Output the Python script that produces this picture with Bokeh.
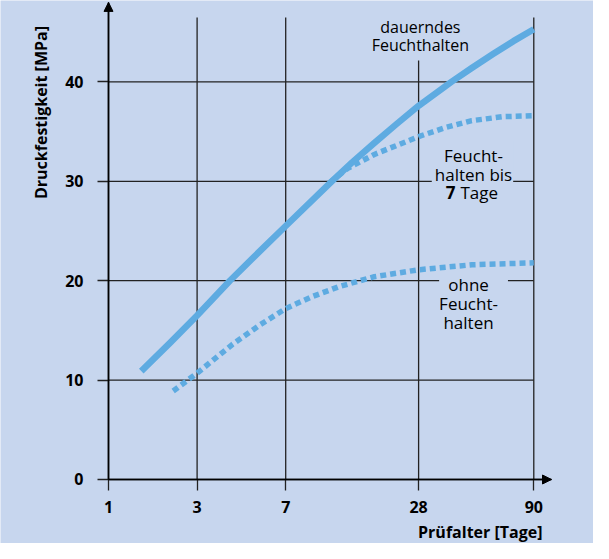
import math
from bokeh.plotting import figure
from bokeh.models import (Range1d, FixedTicker, Label, Arrow, NormalHead)
from bokeh.embed import file_html
from bokeh.resources import INLINE

# ---- data ----
tick_days = [1, 3, 7, 28, 90]
tick_pos = [0, 1, 2, 3.5, 4.8]          # position of each age tick on the (non-log) axis
y_ticks = [0, 10, 20, 30, 40]

# dauerndes Feuchthalten (solid)
dauernd_x = [0.37, 0.7, 1.0, 1.37, 1.7, 2.0, 2.52, 2.75, 3.0, 3.25, 3.5, 3.87, 4.1, 4.34, 4.57, 4.8]
dauernd_y = [10.9, 13.8, 16.5, 20.0, 22.9, 25.5, 30.0, 31.9, 33.85, 35.75, 37.6, 40.0, 41.4, 42.8, 44.1, 45.3]

# Feuchthalten bis 7 Tage (dotted, branches off the solid curve)
bis7_x = [2.5, 2.7, 3.0, 3.25, 3.5, 3.8, 4.1, 4.45, 4.8]
bis7_y = [29.9, 31.3, 32.7, 33.6, 34.5, 35.4, 36.1, 36.5, 36.6]

# ohne Feuchthalten (dotted)
ohne_x = [0.73, 1.0, 1.4, 1.7, 2.0, 2.3, 2.6, 3.0, 3.5, 4.1, 4.8]
ohne_y = [8.9, 10.7, 13.6, 15.5, 17.2, 18.4, 19.4, 20.4, 21.1, 21.6, 21.8]

BG = "#c7d6ee"
BLUE = "#5eabe1"
FONT = "Open Sans"

W, H = 593, 543
X_MIN, X_MAX = -1.219, 5.474
Y_MIN, Y_MAX = -6.44, 48.19
X_ARROW = 5.0
Y_ARROW = 48.0
GRID_TOP = 46.48

p = figure(width=W, height=H, output_backend="svg", toolbar_location=None,
           x_range=Range1d(X_MIN, X_MAX), y_range=Range1d(Y_MIN, Y_MAX),
           min_border=0, background_fill_color=BG,
           border_fill_color=BG, outline_line_color=None)
p.xgrid.visible = False
p.ygrid.visible = False

# axes (crossing at the origin, inside the frame)
for ax in (p.xaxis, p.yaxis):
    ax.fixed_location = 0
    ax.axis_line_color = "black"
    ax.axis_line_width = 1.5
    ax.major_tick_line_color = "#222222"
    ax.major_tick_line_width = 1.3
    ax.major_tick_out = 11
    ax.major_tick_in = 0
    ax.minor_tick_line_color = None
    ax.major_label_text_font = FONT
    ax.major_label_text_font_style = "bold"
    ax.major_label_text_font_size = "16px"
    ax.major_label_text_color = "black"

p.xaxis.bounds = (0, X_ARROW)
p.yaxis.bounds = (0, Y_ARROW)
p.xaxis.ticker = FixedTicker(ticks=tick_pos)
p.xaxis.major_label_overrides = {tp: str(d) for tp, d in zip(tick_pos, tick_days)}
p.xaxis.major_label_standoff = 11
p.yaxis.ticker = FixedTicker(ticks=y_ticks)
p.yaxis.major_label_standoff = 14

# grid lines from tick arrays
gy = y_ticks[1:]
p.segment(x0=[tick_pos[0]] * len(gy), x1=[tick_pos[-1]] * len(gy), y0=gy, y1=gy,
          line_color="#222222", line_width=1.3)
gx = tick_pos[1:]
p.segment(x0=gx, x1=gx, y0=[0] * len(gx), y1=[GRID_TOP] * len(gx),
          line_color="#222222", line_width=1.3)

# curves
p.line(bis7_x, bis7_y, line_color=BLUE, line_width=5.5, line_dash="6 4")
p.line(ohne_x, ohne_y, line_color=BLUE, line_width=5.5, line_dash="6 4")
p.line(dauernd_x, dauernd_y, line_color=BLUE, line_width=6.5, line_join="round")

# arrow heads on axes
p.add_layout(Arrow(end=NormalHead(size=9, fill_color="black", line_color="black"),
                   x_start=0, y_start=0, x_end=0, y_end=Y_ARROW,
                   line_color="black", line_width=1.5))
p.add_layout(Arrow(end=NormalHead(size=9, fill_color="black", line_color="black"),
                   x_start=0, y_start=0, x_end=X_ARROW, y_end=0,
                   line_color="black", line_width=1.5))

# axis titles
p.add_layout(Label(x=-0.767, y=36.92, text="Druckfestigkeit [MPa]", angle=math.pi / 2,
                   text_align="center", text_baseline="middle", text_font=FONT,
                   text_font_style="bold", text_font_size="16px", text_color="black"))
p.add_layout(Label(x=4.898, y=-5.33, text="Prüfalter [Tage]",
                   text_align="right", text_baseline="middle", text_font=FONT,
                   text_font_style="bold", text_font_size="16px", text_color="black"))

# curve labels
p.add_layout(Label(x=3.52, y=44.62, text="dauerndes\nFeuchthalten",
                   text_align="center", text_baseline="middle", text_font=FONT,
                   text_font_size="16px", text_line_height=0.78, text_color="black",
                   background_fill_color=BG, padding=5))
p.add_layout(Label(x=4.108, y=31.77, text="Feucht-\nhalten bis",
                   text_align="center", text_baseline="middle", text_font=FONT,
                   text_font_size="17px", text_line_height=0.82, text_color="black",
                   background_fill_color=BG, padding=(3, 1, 3, 1)))
p.add_layout(Label(x=3.86, y=28.87, text="7",
                   text_align="center", text_baseline="middle", text_font=FONT,
                   text_font_style="bold", text_font_size="17px", text_color="black"))
p.add_layout(Label(x=3.973, y=28.87, text="Tage",
                   text_align="left", text_baseline="middle", text_font=FONT,
                   text_font_size="17px", text_color="black"))
p.add_layout(Label(x=4.12, y=17.2, text="ohne\nFeucht-\nhalten",
                   text_align="center", text_baseline="middle", text_font=FONT,
                   text_font_size="17px", text_line_height=0.83, text_color="black",
                   background_fill_color=BG, padding=(0, 10, 0, 10)))

open("out.html", "w").write(file_html(p, INLINE))
